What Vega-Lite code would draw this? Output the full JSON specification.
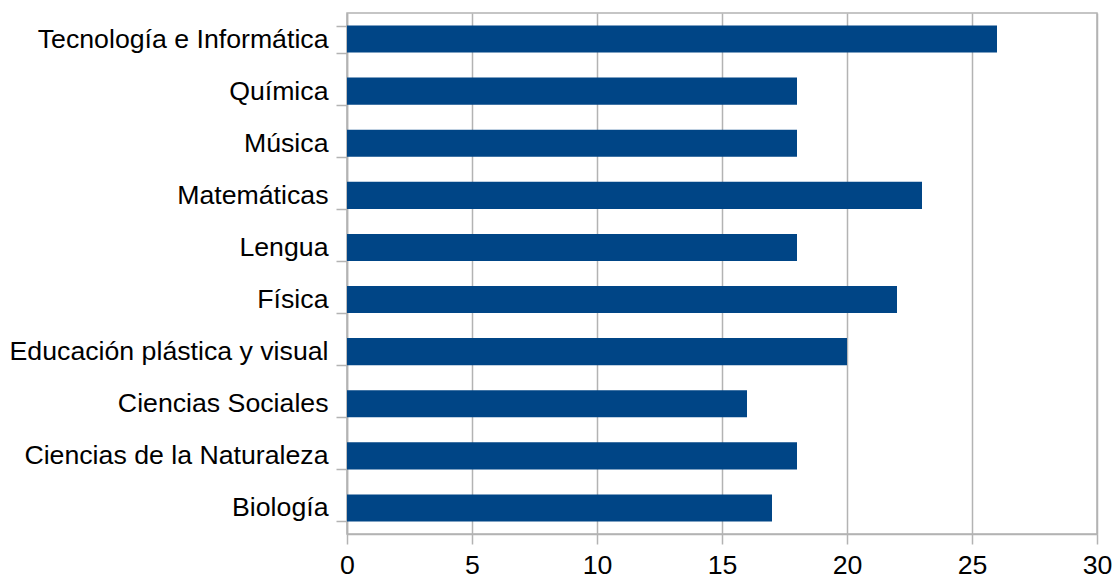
{
  "$schema": "https://vega.github.io/schema/vega-lite/v6.json",
  "width": 750,
  "height": 521,
  "autosize": {"type": "none"},
  "padding": {"left": 347, "top": 13, "right": 18, "bottom": 45},
  "background": "white",
  "config": {
    "view": {"stroke": "#b3b3b3", "strokeWidth": 1.5},
    "font": "Liberation Sans"
  },
  "data": {
    "values": [
      {"asignatura": "Tecnología e Informática", "valor": 26},
      {"asignatura": "Química", "valor": 18},
      {"asignatura": "Música ", "valor": 18},
      {"asignatura": "Matemáticas", "valor": 23},
      {"asignatura": "Lengua ", "valor": 18},
      {"asignatura": "Física", "valor": 22},
      {"asignatura": "Educación plástica y visual", "valor": 20},
      {"asignatura": "Ciencias Sociales", "valor": 16},
      {"asignatura": "Ciencias de la Naturaleza", "valor": 18},
      {"asignatura": "Biología", "valor": 17}
    ]
  },
  "mark": {"type": "bar", "color": "#004586"},
  "encoding": {
    "y": {
      "field": "asignatura",
      "type": "nominal",
      "sort": null,
      "title": null,
      "scale": {"paddingInner": 0.48, "paddingOuter": 0.24},
      "axis": {
        "domainColor": "#b3b3b3",
        "domainWidth": 1.5,
        "tickColor": "#b3b3b3",
        "tickWidth": 1.5,
        "tickSize": 11,
        "tickBand": "extent",
        "labelFontSize": 26.7,
        "labelColor": "#000000",
        "labelPadding": 8,
        "labelFont": "Liberation Sans",
        "labelLimit": 400
      }
    },
    "x": {
      "field": "valor",
      "type": "quantitative",
      "title": null,
      "scale": {"domain": [0, 30], "nice": false},
      "axis": {
        "values": [0, 5, 10, 15, 20, 25, 30],
        "grid": true,
        "gridColor": "#b3b3b3",
        "gridWidth": 1.5,
        "domainColor": "#b3b3b3",
        "domainWidth": 1.5,
        "tickColor": "#b3b3b3",
        "tickWidth": 1.5,
        "tickSize": 10,
        "labelFlush": false,
        "labelFontSize": 26.7,
        "labelColor": "#000000",
        "labelPadding": 8,
        "labelFont": "Liberation Sans"
      }
    }
  }
}
